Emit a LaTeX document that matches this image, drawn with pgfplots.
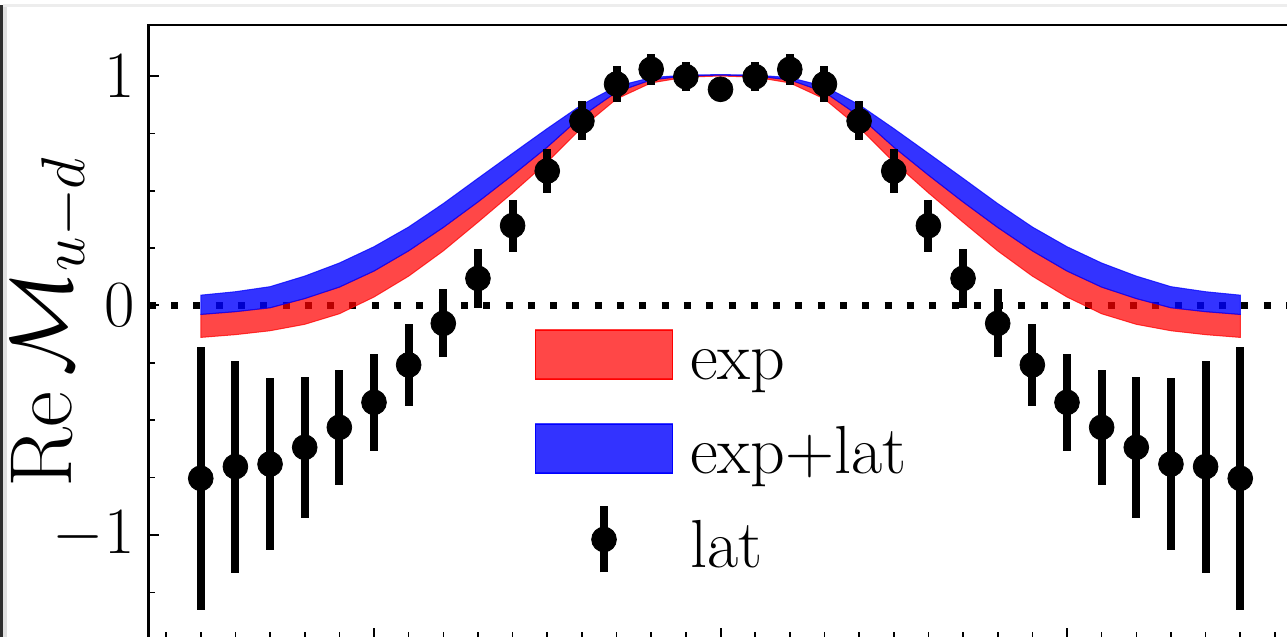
\RequirePackage{fix-cm}
\documentclass[border=0pt]{standalone}
\usepackage{pgfplots}
\usepackage{pgfplotstable}
\pgfplotsset{compat=1.18}

% lattice data: momentum index k, central value, symmetric error
\pgfplotstableread{
k   v      e
-15 -0.753 0.573
-14 -0.702 0.462
-13 -0.691 0.374
-12 -0.618 0.306
-11 -0.531 0.252
-10 -0.422 0.210
-9  -0.259 0.180
-8  -0.078 0.148
-7   0.118 0.130
-6   0.348 0.113
-5   0.586 0.098
-4   0.804 0.085
-3   0.965 0.078
-2   1.029 0.067
-1   0.997 0.063
0    0.942 0.050
1    0.997 0.063
2    1.029 0.067
3    0.965 0.078
4    0.804 0.085
5    0.586 0.098
6    0.348 0.113
7    0.118 0.130
8   -0.078 0.148
9   -0.259 0.180
10  -0.422 0.210
11  -0.531 0.252
12  -0.618 0.306
13  -0.691 0.374
14  -0.702 0.462
15  -0.753 0.573
}\latdata

% exp band outline: upper edge left to right, then lower edge back
\pgfplotstableread{
k   y
-15 -0.039
-14 -0.027
-13 -0.010
-12  0.030
-11  0.080
-10  0.150
-9   0.238
-8   0.340
-7   0.451
-6   0.568
-5   0.690
-4   0.825
-3   0.930
-2   0.983
-1   1.000
0    1.004
1    1.000
2    0.983
3    0.930
4    0.825
5    0.690
6    0.568
7    0.451
8    0.340
9    0.238
10   0.150
11   0.080
12   0.030
13  -0.010
14  -0.027
15  -0.039
15  -0.139
14  -0.127
13  -0.110
12  -0.082
11  -0.036
10   0.037
9    0.128
8    0.238
7    0.363
6    0.491
5    0.625
4    0.775
3    0.900
2    0.970
1    0.995
0    1.000
-1   0.995
-2   0.970
-3   0.900
-4   0.775
-5   0.625
-6   0.491
-7   0.363
-8   0.238
-9   0.128
-10  0.037
-11 -0.036
-12 -0.082
-13 -0.110
-14 -0.127
-15 -0.139
}\expband

% exp+lat band outline: upper edge left to right, then lower edge back
\pgfplotstableread{
k   y
-15  0.045
-14  0.060
-13  0.082
-12  0.128
-11  0.185
-10  0.256
-9   0.342
-8   0.444
-7   0.554
-6   0.663
-5   0.771
-4   0.875
-3   0.955
-2   0.993
-1   1.004
0    1.006
1    1.004
2    0.993
3    0.955
4    0.875
5    0.771
6    0.663
7    0.554
8    0.444
9    0.342
10   0.256
11   0.185
12   0.128
13   0.082
14   0.060
15   0.045
15  -0.039
14  -0.027
13  -0.010
12   0.030
11   0.080
10   0.150
9    0.238
8    0.340
7    0.451
6    0.568
5    0.690
4    0.825
3    0.930
2    0.983
1    1.000
0    1.004
-1   1.000
-2   0.983
-3   0.930
-4   0.825
-5   0.690
-6   0.568
-7   0.451
-8   0.340
-9   0.238
-10  0.150
-11  0.080
-12  0.030
-13 -0.010
-14 -0.027
-15 -0.039
}\latband

\begin{document}
\begin{tikzpicture}
\begin{axis}[
  scale only axis, width=571.725pt, height=306.73pt,
  xmin=-16.5, xmax=16.5, ymin=-1.45, ymax=1.223,
  axis line style={line width=1.3pt, black},
  tick pos=left, tick align=inside,
  xtick={-10,0,10}, xticklabels={},
  minor xtick={-16,-15,...,16},
  ytick={-1,0,1},
  minor ytick={-1.25,-0.75,-0.5,-0.25,0.25,0.5,0.75},
  major tick length=5pt, minor tick length=3pt,
  every tick/.style={black, line width=1pt},
  every minor tick/.style={black, line width=0.8pt},
  yticklabel style={font=\fontsize{33}{40}\selectfont, inner sep=0pt, xshift=-7pt},
  ylabel={$\mathrm{Re}\,\mathcal{M}_{u-d}$},
  ylabel style={font=\fontsize{44}{52}\selectfont, at={(-0.0675,0.5156)}, anchor=base},
  legend cell align=left,
  legend style={at={(0.3378,0.5156)}, anchor=north west,
    draw=none, fill=none, inner sep=0pt, outer sep=0pt,
    row sep=14.5pt, column sep=8.5pt,
    font=\fontsize{34}{40}\selectfont,
    nodes={inner sep=0pt, text height=29pt, text depth=3.5pt}},
]
% zero reference line
\addplot[black, line width=3.5pt, dash pattern=on 3.5pt off 7.65pt, forget plot]
  coordinates {(-16.5,0) (16.5,0)};

\addplot[fill=red, fill opacity=0.72, draw=red, draw opacity=0.75, line width=0.5pt, forget plot]
  table[x=k, y=y] {\expband} -- cycle;
\addplot[fill=blue, fill opacity=0.8, draw=blue, draw opacity=0.75, line width=0.5pt, forget plot]
  table[x=k, y=y] {\latband} -- cycle;

\addplot[black, only marks, mark=*, mark size=6.2pt, forget plot,
  error bars/.cd, y dir=both, y explicit,
  error bar style={line width=4pt, black}, error mark=none]
  table[x=k, y=v, y error=e] {\latdata};

\addlegendimage{legend image code/.code={
  \fill[red, fill opacity=0.72] (0pt,-12.25pt) rectangle (68.5pt,12.25pt);
  \draw[red, draw opacity=0.75, line width=0.5pt] (0pt,-12.25pt) rectangle (68.5pt,12.25pt);}}
\addlegendentry{exp}
\addlegendimage{legend image code/.code={
  \fill[blue, fill opacity=0.8] (0pt,-12.25pt) rectangle (68.5pt,12.25pt);
  \draw[blue, draw opacity=0.75, line width=0.5pt] (0pt,-12.25pt) rectangle (68.5pt,12.25pt);}}
\addlegendentry{exp+lat}
\addlegendimage{legend image code/.code={
  \begin{pgfinterruptboundingbox}
  \draw[black, line width=4pt] (34.25pt,-15pt) -- (34.25pt,18pt);
  \fill[black] (34.25pt,1.5pt) circle (6.2pt);
  \end{pgfinterruptboundingbox}
  \path[draw=none, fill=none] (0pt,-12.25pt) rectangle (68.5pt,12.25pt);}}
\addlegendentry{lat}
\end{axis}
% window edges around the figure
\begin{scope}[shift={(-74.39pt,0.64pt)}]
\fill[black!82] (0,0) rectangle (1.75pt,316pt);
\fill[black!12] (1.75pt,0) rectangle (3.3pt,314.75pt);
\fill[black!7] (1.75pt,314.75pt) rectangle (643.5pt,316.3pt);
\end{scope}
\pgfresetboundingbox
\useasboundingbox (-74.39pt,0.64pt) rectangle (569.11pt,319.14pt);
\end{tikzpicture}
\end{document}
